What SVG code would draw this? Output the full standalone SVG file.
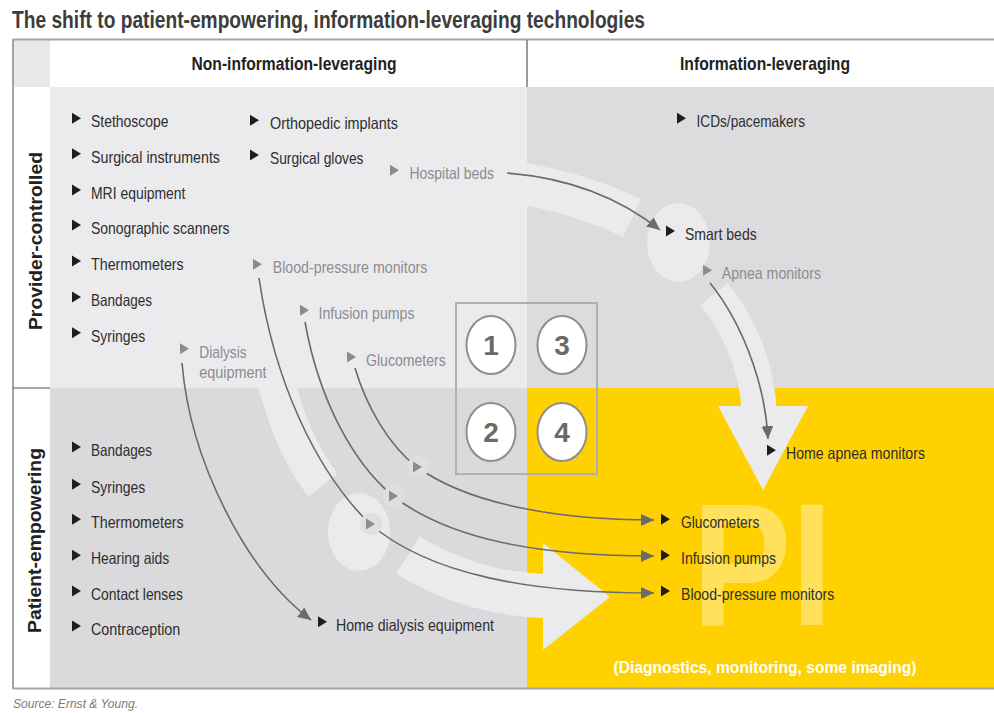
<svg xmlns="http://www.w3.org/2000/svg" width="994" height="713" viewBox="0 0 994 713">
<style>
text{font-family:"Liberation Sans",Arial,sans-serif}
.it{font-size:16.5px;fill:#2e2e2e}
.gi{font-size:16.5px;fill:#8c8c8f}
.hd{font-size:18.5px;font-weight:bold;fill:#222;text-anchor:middle}
.vl{font-size:19px;font-weight:bold;fill:#222;text-anchor:middle}
.tb{fill:#1e1e1e}
.tg{fill:#8c8c8f}
.con{fill:none;stroke:#6b6b6e;stroke-width:1.6}
.band{fill:none;stroke:#ebebed}
.lt{fill:#ebebed}
.num{font-size:28px;font-weight:bold;fill:#6a6a6a;text-anchor:middle}
.ring{fill:#fff;stroke:#8e8e91;stroke-width:2}
.halo{fill:#dfdfe2}
.bd{stroke:#a5a5a8;stroke-width:2;fill:none}
</style>
<defs>
<path id="tri" d="M0,-5.5 L9,0 L0,5.5 Z"/>
<marker id="ah" markerUnits="userSpaceOnUse" markerWidth="14" markerHeight="12" refX="13" refY="6" orient="auto"><path d="M0,0 L13,6 L0,12 Z" fill="#6b6b6e"/></marker>
</defs>
<rect x="0" y="0" width="994" height="713" fill="#fff"/>
<text x="12" y="28" font-size="24" font-weight="bold" fill="#3c3c3c" textLength="633" lengthAdjust="spacingAndGlyphs">The shift to patient-empowering, information-leveraging technologies</text>

<g id="frame">
<rect x="14" y="40" width="36" height="47" fill="#e8e8ea"/>
<rect x="50" y="87" width="477" height="301" fill="#ebebed"/>
<rect x="527" y="87" width="467" height="301" fill="#dcdcde"/>
<rect x="50" y="388" width="477" height="300" fill="#dadadc"/>
<rect x="527" y="388" width="467" height="300" fill="#ffd100"/>
<line x1="13" y1="39.5" x2="994" y2="39.5" class="bd"/>
<line x1="13" y1="39" x2="13" y2="689" class="bd"/>
<line x1="13" y1="688.5" x2="994" y2="688.5" class="bd"/>
<line x1="527" y1="40" x2="527" y2="87" stroke="#7a7a7a" stroke-width="1.5"/>
<line x1="13" y1="388" x2="50" y2="388" stroke="#555" stroke-width="1.2"/>
<text class="hd" x="294" y="70" textLength="205" lengthAdjust="spacingAndGlyphs">Non-information-leveraging</text>
<text class="hd" x="765" y="70" textLength="170" lengthAdjust="spacingAndGlyphs">Information-leveraging</text>
<text class="vl" transform="translate(41.5,241) rotate(-90)" textLength="178" lengthAdjust="spacingAndGlyphs">Provider-controlled</text>
<text class="vl" transform="translate(40.5,540.5) rotate(-90)" textLength="185" lengthAdjust="spacingAndGlyphs">Patient-empowering</text>
</g>

<g id="flows">
<path class="band" d="M 470 178 C 540 182 590 198 632 218" stroke-width="42"/>
<ellipse class="lt" cx="678.5" cy="242.5" rx="31.5" ry="39.5"/>
<path class="band" d="M 714 294 C 735 320 756 360 759 408" stroke-width="35"/>
<polygon class="lt" points="718,406 808,406 763,490"/>
<path class="band" d="M 262 300 C 268 365 287 440 323 485" stroke-width="37"/>
<ellipse class="lt" cx="359" cy="532" rx="31" ry="39"/>
<path class="band" d="M 408 555 C 445 578 490 594 545 596" stroke-width="44"/>
<polygon class="lt" points="543,543 610,597 543,650"/>
<text transform="translate(692,625) scale(0.85,1)" x="0" y="0" font-size="175" font-weight="bold" fill="#ffffff" fill-opacity="0.36">PI</text>
<text x="765" y="672.7" font-size="17" font-weight="bold" fill="#fff" text-anchor="middle" textLength="303" lengthAdjust="spacingAndGlyphs">(Diagnostics, monitoring, some imaging)</text>
</g>

<g id="quadrant-key">
<rect x="456" y="303" width="141" height="171" fill="none" stroke="#b0b0b4" stroke-width="2"/>
<g id="q1"><ellipse class="ring" cx="491" cy="345" rx="24.5" ry="29"/><text class="num" x="491" y="355">1</text></g>
<g id="q3"><ellipse class="ring" cx="562" cy="345" rx="24.5" ry="29"/><text class="num" x="562" y="355">3</text></g>
<g id="q2"><ellipse class="ring" cx="491" cy="432" rx="24.5" ry="29"/><text class="num" x="491" y="442">2</text></g>
<g id="q4"><ellipse class="ring" cx="562" cy="432" rx="24.5" ry="29"/><text class="num" x="562" y="442">4</text></g>
</g>

<g id="connectors">
<path class="con" d="M 507 173 C 570 178 620 198 660 230" marker-end="url(#ah)"/>
<path class="con" d="M 710 283 C 740 320 765 380 768 439" marker-end="url(#ah)"/>
<path class="con" d="M 182 363 C 190 460 245 570 311 620" marker-end="url(#ah)"/>
<path class="con" d="M 355 368 C 366 405 388 445 417 467 C 470 505 560 520 654 520" marker-end="url(#ah)"/>
<path class="con" d="M 305 322 C 318 395 350 460 393 496 C 450 540 540 556 654 556" marker-end="url(#ah)"/>
<path class="con" d="M 259 278 C 274 380 315 470 370 524 C 430 575 530 593 654 593" marker-end="url(#ah)"/>
<circle class="halo" cx="418" cy="467" r="11"/>
<circle class="halo" cx="394" cy="496" r="11"/>
<circle class="halo" cx="371" cy="524" r="11"/>
<use href="#tri" x="413" y="467" class="tg"/>
<use href="#tri" x="389" y="496" class="tg"/>
<use href="#tri" x="366" y="524" class="tg"/>
</g>

<g id="n-stethoscope"><use href="#tri" x="72" y="118.3" class="tb"/><text class="it" x="91" y="127.3" textLength="77.5" lengthAdjust="spacingAndGlyphs">Stethoscope</text></g>
<g id="n-surgical-instruments"><use href="#tri" x="72" y="153.7" class="tb"/><text class="it" x="91" y="162.7" textLength="129" lengthAdjust="spacingAndGlyphs">Surgical instruments</text></g>
<g id="n-mri"><use href="#tri" x="72" y="190" class="tb"/><text class="it" x="91" y="199" textLength="94.5" lengthAdjust="spacingAndGlyphs">MRI equipment</text></g>
<g id="n-sonographic"><use href="#tri" x="72" y="225" class="tb"/><text class="it" x="91" y="234" textLength="138.5" lengthAdjust="spacingAndGlyphs">Sonographic scanners</text></g>
<g id="n-thermometers-1"><use href="#tri" x="72" y="261" class="tb"/><text class="it" x="91" y="270" textLength="92.7" lengthAdjust="spacingAndGlyphs">Thermometers</text></g>
<g id="n-bandages-1"><use href="#tri" x="72" y="297" class="tb"/><text class="it" x="91" y="306" textLength="61" lengthAdjust="spacingAndGlyphs">Bandages</text></g>
<g id="n-syringes-1"><use href="#tri" x="72" y="332.7" class="tb"/><text class="it" x="91" y="341.7" textLength="54.3" lengthAdjust="spacingAndGlyphs">Syringes</text></g>
<g id="n-orthopedic"><use href="#tri" x="250" y="120.3" class="tb"/><text class="it" x="270" y="129.3" textLength="128" lengthAdjust="spacingAndGlyphs">Orthopedic implants</text></g>
<g id="n-surgical-gloves"><use href="#tri" x="250" y="155" class="tb"/><text class="it" x="270" y="164" textLength="93.5" lengthAdjust="spacingAndGlyphs">Surgical gloves</text></g>
<g id="n-hospital-beds"><use href="#tri" x="390" y="170.3" class="tg"/><text class="gi" x="409.5" y="179.3" textLength="84.5" lengthAdjust="spacingAndGlyphs">Hospital beds</text></g>
<g id="n-bp-monitors-1"><use href="#tri" x="253" y="264.3" class="tg"/><text class="gi" x="272.7" y="273.3" textLength="154.7" lengthAdjust="spacingAndGlyphs">Blood-pressure monitors</text></g>
<g id="n-infusion-1"><use href="#tri" x="300" y="310.3" class="tg"/><text class="gi" x="318.5" y="319.3" textLength="96" lengthAdjust="spacingAndGlyphs">Infusion pumps</text></g>
<g id="n-glucometers-1"><use href="#tri" x="347" y="357" class="tg"/><text class="gi" x="366" y="366" textLength="79.7" lengthAdjust="spacingAndGlyphs">Glucometers</text></g>
<g id="n-dialysis"><use href="#tri" x="180" y="348.7" class="tg"/><text class="gi" x="199.3" y="357.7" textLength="47.3" lengthAdjust="spacingAndGlyphs">Dialysis</text><text class="gi" x="199.3" y="377.5" textLength="67.3" lengthAdjust="spacingAndGlyphs">equipment</text></g>

<g id="n-icds"><use href="#tri" x="677" y="118.3" class="tb"/><text class="it" x="696.5" y="127.3" textLength="108.5" lengthAdjust="spacingAndGlyphs">ICDs/pacemakers</text></g>
<g id="n-smart-beds"><use href="#tri" x="666" y="231" class="tb"/><text class="it" x="685" y="240" textLength="71.7" lengthAdjust="spacingAndGlyphs">Smart beds</text></g>
<g id="n-apnea"><use href="#tri" x="703" y="270.3" class="tg"/><text class="gi" x="721.7" y="279.3" textLength="99.3" lengthAdjust="spacingAndGlyphs">Apnea monitors</text></g>

<g id="n-home-apnea"><use href="#tri" x="767" y="450.3" class="tb"/><text class="it" x="786" y="459.3" textLength="139" lengthAdjust="spacingAndGlyphs">Home apnea monitors</text></g>
<g id="n-glucometers-4"><use href="#tri" x="661" y="519.3" class="tb"/><text class="it" x="681" y="528.3" textLength="78.3" lengthAdjust="spacingAndGlyphs">Glucometers</text></g>
<g id="n-infusion-4"><use href="#tri" x="661" y="555.3" class="tb"/><text class="it" x="681" y="564.3" textLength="95" lengthAdjust="spacingAndGlyphs">Infusion pumps</text></g>
<g id="n-bp-monitors-4"><use href="#tri" x="661" y="591" class="tb"/><text class="it" x="681" y="600" textLength="153.3" lengthAdjust="spacingAndGlyphs">Blood-pressure monitors</text></g>

<g id="n-bandages-2"><use href="#tri" x="72" y="447" class="tb"/><text class="it" x="91" y="456" textLength="61" lengthAdjust="spacingAndGlyphs">Bandages</text></g>
<g id="n-syringes-2"><use href="#tri" x="72" y="484.3" class="tb"/><text class="it" x="91" y="493.3" textLength="54.3" lengthAdjust="spacingAndGlyphs">Syringes</text></g>
<g id="n-thermometers-2"><use href="#tri" x="72" y="519.3" class="tb"/><text class="it" x="91" y="528.3" textLength="92.7" lengthAdjust="spacingAndGlyphs">Thermometers</text></g>
<g id="n-hearing-aids"><use href="#tri" x="72" y="555.3" class="tb"/><text class="it" x="91" y="564.3" textLength="78.3" lengthAdjust="spacingAndGlyphs">Hearing aids</text></g>
<g id="n-contact-lenses"><use href="#tri" x="72" y="591" class="tb"/><text class="it" x="91" y="600" textLength="92" lengthAdjust="spacingAndGlyphs">Contact lenses</text></g>
<g id="n-contraception"><use href="#tri" x="72" y="626" class="tb"/><text class="it" x="91" y="635" textLength="89.3" lengthAdjust="spacingAndGlyphs">Contraception</text></g>
<g id="n-home-dialysis"><use href="#tri" x="318" y="621.7" class="tb"/><text class="it" x="336" y="630.7" textLength="158" lengthAdjust="spacingAndGlyphs">Home dialysis equipment</text></g>

<text x="13" y="708" font-size="12.5" font-style="italic" fill="#7a7a7a" textLength="125" lengthAdjust="spacingAndGlyphs">Source: Ernst &amp; Young.</text>
</svg>
